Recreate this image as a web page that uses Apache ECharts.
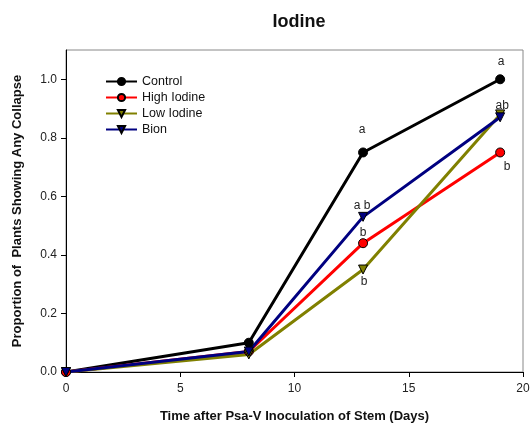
<!DOCTYPE html>
<html>
<head>
<meta charset="utf-8">
<script src="https://cdn.jsdelivr.net/npm/echarts@6/dist/echarts.min.js"></script>
<style>
  html, body { margin: 0; padding: 0; background: #fff; }
  #chart { width: 531px; height: 423px; }
</style>
</head>
<body>
<div id="chart"></div>
<script>
// days after inoculation
var days = [0, 8, 13, 19];

// proportion of plants showing any collapse
var control = [0, 0.1, 0.75, 1.0];
var highIodine = [0, 0.07, 0.44, 0.75];
var lowIodine = [0, 0.06, 0.35, 0.88];
var bion = [0, 0.07, 0.53, 0.87];

// significance letters ("" = none)
var controlLetters = ["", "", "a", "a"];
var highLetters = ["", "", "b", "b"];
var lowLetters = ["", "", "b", ""];
var bionLetters = ["", "", "a b", "ab"];

var yTicks = [0, 0.2, 0.4, 0.6, 0.8, 1.0];

// label placement per series: which side, and offset
var labelPlace = {
  control: [null, null, { position: "top", offset: [-1, -7] }, { position: "top", offset: [1, -2] }],
  high: [null, null, { position: "top", offset: [0, 5] }, { position: "bottom", offset: [7, -2] }],
  low: [null, null, { position: "bottom", offset: [1, -4] }, null],
  bion: [null, null, { position: "top", offset: [-1, 5] }, { position: "top", offset: [2, 4] }],
};

function buildData(values, letters, places) {
  return values.map(function (v, i) {
    var item = { value: [days[i], v] };
    if (letters[i] && places[i]) {
      item.label = {
        show: true,
        formatter: letters[i],
        position: places[i].position,
        offset: places[i].offset,
        color: "#222",
        fontSize: 12,
        fontFamily: "Liberation Sans",
      };
    }
    return item;
  });
}

function makeSeries(name, color, symbol, rotate, values, letters, places) {
  return {
    name: name,
    type: "line",
    data: buildData(values, letters, places),
    symbol: symbol,
    symbolSize: 9,
    symbolRotate: rotate,
    showAllSymbol: true,
    lineStyle: { color: color, width: 3 },
    itemStyle: { color: color, borderColor: "#000", borderWidth: 1 },
    emphasis: { disabled: true },
    animation: false,
  };
}

var myChart = echarts.init(document.getElementById("chart"));

var option = {
  backgroundColor: "#fff",
  title: {
    text: "Iodine",
    left: 294,
    textAlign: "center",
    top: 8,
    textStyle: {
      fontFamily: "Liberation Sans",
      fontWeight: "bold",
      fontSize: 18,
      color: "#111",
    },
  },
  legend: {
    orient: "vertical",
    left: 100,
    top: 70,
    itemWidth: 31,
    itemHeight: 9,
    itemGap: 3,
    textStyle: { fontFamily: "Liberation Sans", fontSize: 12.5, color: "#111" },
    data: ["Control", "High Iodine", "Low Iodine", "Bion"],
  },
  grid: {
    left: 66,
    right: 8,
    top: 50,
    bottom: 51,
    outerBoundsMode: "none",
    containLabel: false,
    show: true,
    borderColor: "#888",
    borderWidth: 1,
  },
  xAxis: {
    type: "value",
    min: 0,
    max: 20,
    interval: 5,
    name: "Time after Psa-V Inoculation of Stem (Days)",
    nameLocation: "middle",
    nameGap: 38,
    nameTextStyle: {
      fontFamily: "Liberation Sans",
      fontWeight: "bold",
      fontSize: 13,
      color: "#111",
    },
    splitLine: { show: false },
    axisLine: { lineStyle: { color: "#000", width: 1 } },
    axisTick: { show: true, length: 5, lineStyle: { color: "#000" } },
    axisLabel: {
      fontFamily: "Liberation Sans",
      fontSize: 12,
      color: "#222",
      margin: 11,
    },
  },
  yAxis: {
    type: "value",
    min: 0,
    max: 1.1,
    name: "Proportion of  Plants Showing Any Collapse",
    nameLocation: "middle",
    nameGap: 42,
    nameTextStyle: {
      fontFamily: "Liberation Sans",
      fontWeight: "bold",
      fontSize: 13,
      color: "#111",
    },
    splitLine: { show: false },
    axisLine: { show: true, lineStyle: { color: "#000", width: 1 } },
    axisTick: {
      show: true,
      length: 5,
      lineStyle: { color: "#000" },
      customValues: yTicks,
    },
    axisLabel: {
      fontFamily: "Liberation Sans",
      fontSize: 12,
      color: "#222",
      margin: 9,
      customValues: yTicks,
      formatter: function (v) {
        return v.toFixed(1);
      },
    },
  },
  series: [
    makeSeries("Control", "#000000", "circle", 0, control, controlLetters, labelPlace.control),
    makeSeries("High Iodine", "#ff0000", "circle", 0, highIodine, highLetters, labelPlace.high),
    makeSeries("Low Iodine", "#808000", "triangle", 180, lowIodine, lowLetters, labelPlace.low),
    makeSeries("Bion", "#000080", "triangle", 180, bion, bionLetters, labelPlace.bion),
  ],
};

myChart.setOption(option);
</script>
</body>
</html>
